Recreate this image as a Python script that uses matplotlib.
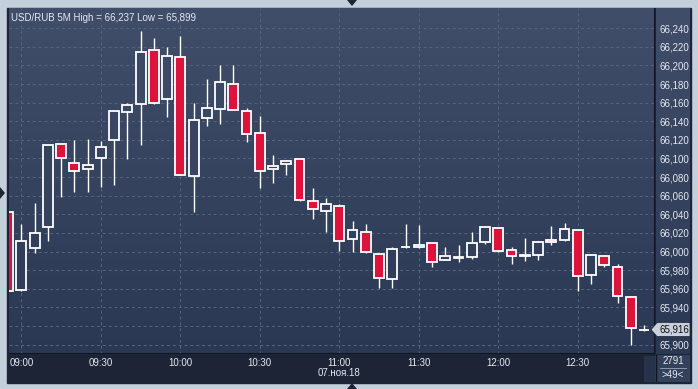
import numpy as np
import matplotlib
matplotlib.use("Agg")
import matplotlib.pyplot as plt
from matplotlib.colors import LinearSegmentedColormap
from matplotlib.patches import Rectangle, Polygon
from matplotlib.ticker import FuncFormatter

plt.rcParams['font.family'] = ['Liberation Sans', 'DejaVu Sans']

# 5-минутные свечи USD/RUB, индекс 0 = 09:00
idx = list(range(-1, 48))
opens = [66.042, 65.959, 66.004, 66.026, 66.116, 66.095, 66.089, 66.100, 66.120, 66.150,
         66.159, 66.217, 66.164, 66.209, 66.081, 66.143, 66.153, 66.180, 66.151, 66.127,
         66.089, 66.094, 66.099, 66.054, 66.044, 66.049, 66.013, 66.021, 65.997, 65.970,
         66.005, 66.005, 66.009, 65.991, 65.993, 65.994, 66.010, 66.025, 66.002, 65.995,
         65.996, 66.012, 66.012, 66.023, 65.975, 65.995, 65.983, 65.951, 65.916]
highs = [66.044, 66.030, 66.052, 66.115, 66.116, 66.120, 66.121, 66.119, 66.151, 66.160,
         66.237, 66.230, 66.220, 66.232, 66.160, 66.186, 66.201, 66.201, 66.154, 66.146,
         66.104, 66.098, 66.099, 66.068, 66.058, 66.051, 66.033, 66.030, 65.997, 66.005,
         66.030, 66.028, 66.009, 66.005, 66.007, 66.021, 66.027, 66.025, 66.005, 66.014,
         66.011, 66.027, 66.031, 66.024, 65.997, 65.996, 65.987, 65.951, 65.921]
lows = [65.957, 65.958, 65.998, 66.011, 66.059, 66.064, 66.064, 66.069, 66.071, 66.099,
        66.115, 66.159, 66.145, 66.082, 66.043, 66.135, 66.137, 66.152, 66.118, 66.068,
        66.074, 66.082, 66.054, 66.035, 66.021, 66.001, 65.999, 65.998, 65.961, 65.961,
        66.004, 66.004, 65.983, 65.991, 65.989, 65.992, 66.008, 66.000, 65.987, 65.990,
        65.991, 66.007, 66.011, 65.958, 65.965, 65.983, 65.945, 65.899, 65.915]
closes = [65.957, 66.011, 66.020, 66.114, 66.100, 66.087, 66.093, 66.112, 66.151, 66.158,
          66.214, 66.160, 66.210, 66.082, 66.141, 66.154, 66.182, 66.152, 66.126, 66.087,
          66.092, 66.097, 66.055, 66.046, 66.051, 66.011, 66.023, 65.999, 65.971, 66.003,
          66.005, 66.007, 65.989, 65.995, 65.994, 66.009, 66.026, 66.001, 65.995, 65.996,
          66.010, 66.010, 66.024, 65.974, 65.996, 65.985, 65.952, 65.918, 65.916]

time_ticks = [0, 6, 12, 18, 24, 30, 36, 42]
time_labels = ['09:00', '09:30', '10:00', '10:30', '11:00', '11:30', '12:00', '12:30']
price_ticks = [round(65.90 + 0.02 * i, 3) for i in range(18)]
last_price = 65.916

W, H = 698, 389
fig = plt.figure(figsize=(W / 100, H / 100), dpi=100)
fig.patch.set_facecolor('#c4cfdc')


def box(x0, y0, x1, y1):
    # пиксели -> доли фигуры
    return [x0 / W, 1 - y1 / H, (x1 - x0) / W, (y1 - y0) / H]


txt = '#e4e9f1'
grad = LinearSegmentedColormap.from_list('bg', ['#404e6a', '#2b3853'])

# рамка панели
fig.add_artist(Rectangle((7.5 / W, 1 - 382.5 / H), 683 / W, 375 / H, transform=fig.transFigure,
                         facecolor='#1c2436', edgecolor='#1c2436', lw=1, zorder=-1))

# шкала цен справа
axp = fig.add_axes(box(656, 8, 690, 354))
axp.imshow(np.linspace(0, 1, 256).reshape(-1, 1), cmap=grad, aspect='auto', extent=[0, 1, 0, 1])
axp.set_axis_off()

# полоса времени снизу
axb = fig.add_axes(box(8, 355, 690, 382))
axb.set_facecolor('#3c4964')
axb.set_xlim(8, 690)
axb.set_ylim(382, 355)
axb.add_patch(Rectangle((643, 355), 12, 27, facecolor='#27334a', edgecolor='#1c2436', lw=0.6))
axb.add_patch(Rectangle((655, 355), 35, 27, facecolor='#34415b', edgecolor='none'))
axb.axvline(655.5, color='#10151f', lw=1)
axb.text(673, 361, '2791', color=txt, fontsize=7, ha='center', va='center')
axb.plot([660, 686], [368, 368], color='#9aa6b8', lw=0.6)
axb.text(673, 375, '>49<', color=txt, fontsize=7, ha='center', va='center')
axb.text(339, 373, '07.ноя.18', color=txt, fontsize=7, ha='center', va='center')
axb.set_axis_off()

# основной график
ax = fig.add_axes(box(9, 8, 655, 354))
x0, x1 = -0.928, 47.83
y0, y1 = 65.8898, 66.2618
ax.imshow(np.linspace(0, 1, 256).reshape(-1, 1), cmap=grad, aspect='auto',
          extent=[x0, x1, y0, y1], zorder=0)


def bg_at(p):
    t = (y1 - p) / (y1 - y0)
    return grad(t)


for i, o, h, l, c in zip(idx, opens, highs, lows, closes):
    ax.vlines(i, l, h, color='white', lw=1.0, zorder=2)
    face = '#dc143c' if c < o else bg_at((o + c) / 2)
    ax.add_patch(Rectangle((i - 0.375, min(o, c)), 0.75, abs(c - o), facecolor=face,
                           edgecolor='white', lw=1.3, zorder=3))

ax.set_xlim(x0, x1)
ax.set_ylim(y0, y1)
ax.set_xticks(time_ticks)
ax.set_xticklabels(time_labels)
ax.set_yticks(price_ticks)
ax.yaxis.set_major_formatter(FuncFormatter(lambda v, _: f'{v:.3f}'.replace('.', ',')))
ax.yaxis.tick_right()
ax.tick_params(axis='both', length=0, labelsize=7, labelcolor=txt)
ax.tick_params(axis='x', pad=3)
ax.tick_params(axis='y', pad=3)
ax.grid(True, color='#56647f', lw=0.7, linestyle=(0, (3, 3)), zorder=1)
ax.set_axisbelow(True)
for s in ax.spines.values():
    s.set_visible(False)
ax.axvline(x1, color='#10151f', lw=1.5, zorder=5)
ax.axhline(y0, color='#10151f', lw=1.5, zorder=5)

ax.text(0.003, 0.985, 'USD/RUB 5M High = 66,237 Low = 65,899', transform=ax.transAxes,
        color=txt, fontsize=7, ha='left', va='top', zorder=6)

# метка последней цены
yl = 28.3 + (66.240 - last_price) / 0.0010753
tag = Polygon([(651 / W, 1 - yl / H), (657 / W, 1 - (yl - 7) / H), (690 / W, 1 - (yl - 7) / H),
               (690 / W, 1 - (yl + 7) / H), (657 / W, 1 - (yl + 7) / H)],
              closed=True, transform=fig.transFigure, facecolor='#c9d1dc', edgecolor='#222a3a',
              lw=0.6, zorder=10)
fig.add_artist(tag)
fig.text(659 / W, 1 - yl / H, '65,916', color='#111111', fontsize=7, ha='left', va='center',
         zorder=11)

# треугольники-маркеры на рамке
tri = '#1c2436'
fig.add_artist(Polygon([(347 / W, 1.0), (357 / W, 1.0), (352 / W, 1 - 6 / H)], closed=True,
                       transform=fig.transFigure, facecolor=tri, edgecolor='none', zorder=10))
fig.add_artist(Polygon([(347 / W, 0.0), (357 / W, 0.0), (352 / W, 6 / H)], closed=True,
                       transform=fig.transFigure, facecolor=tri, edgecolor='none', zorder=10))
fig.add_artist(Polygon([(0, 1 - 187 / H), (0, 1 - 199 / H), (5 / W, 1 - 193 / H)], closed=True,
                       transform=fig.transFigure, facecolor=tri, edgecolor='none', zorder=10))

fig.savefig('out.png', dpi=100, facecolor=fig.get_facecolor())
